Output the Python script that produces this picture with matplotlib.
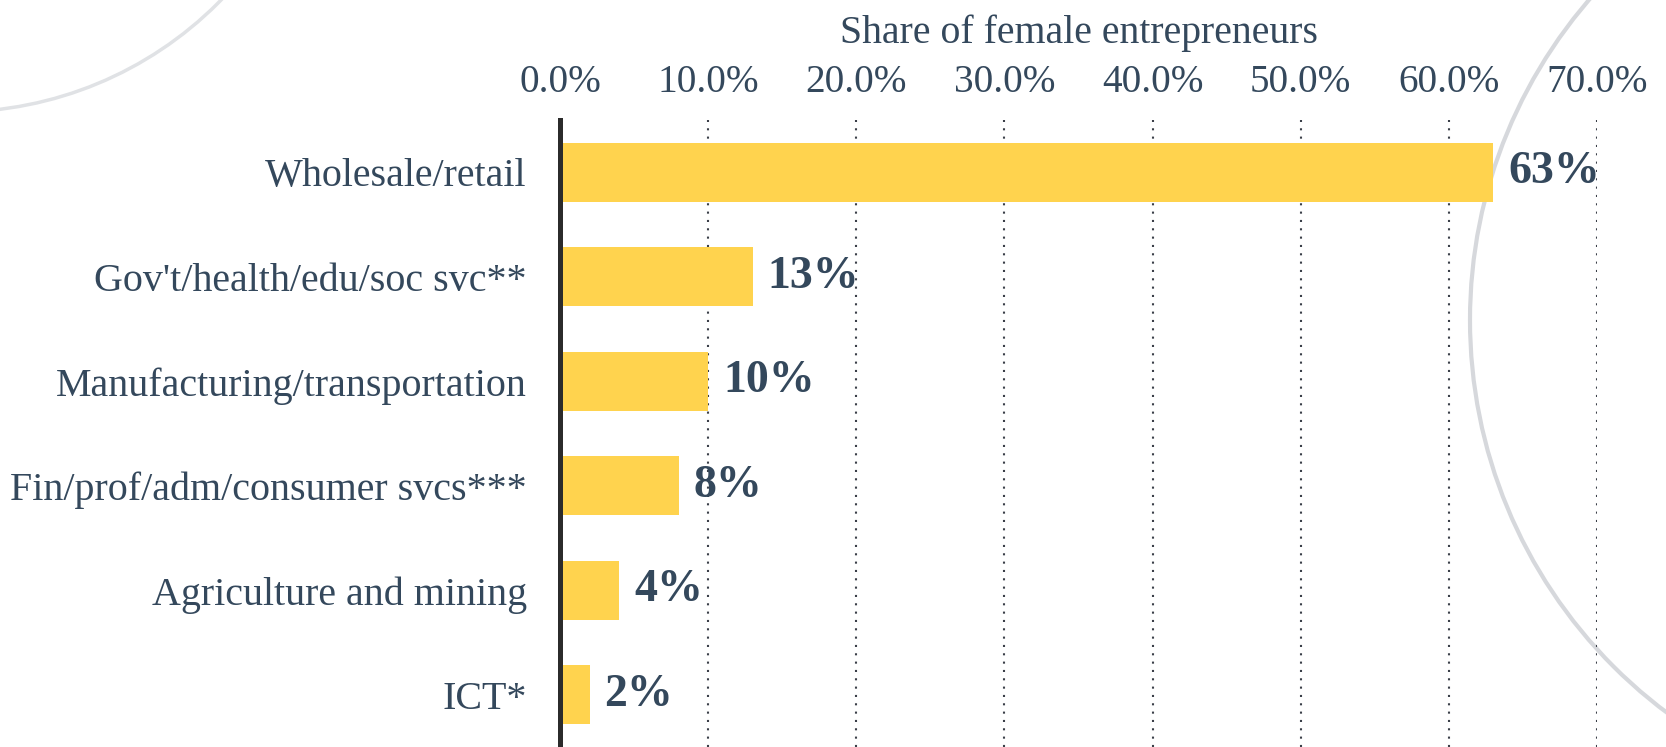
import matplotlib.pyplot as plt
from matplotlib.patches import Circle

plt.rcParams['font.family'] = ['Liberation Serif', 'DejaVu Serif']

sectors = ["Wholesale/retail", "Gov't/health/edu/soc svc**", "Manufacturing/transportation",
           "Fin/prof/adm/consumer svcs***", "Agriculture and mining", "ICT*"]
shares = [63, 13, 10, 8, 4, 2]
ticks = [0, 10, 20, 30, 40, 50, 60, 70]

text_color = '#34485c'

fig = plt.figure(figsize=(16.66, 7.47), dpi=100)

# faint decorative arcs in the background
bg = fig.add_axes([0, 0, 1, 1], zorder=0)
bg.set_xlim(0, 1666)
bg.set_ylim(747, 0)
bg.axis('off')
bg.add_patch(Circle((1960, 320), 490, fill=False, ec='#d6d8dc', lw=3))
bg.add_patch(Circle((-45, -260), 372, fill=False, ec='#e0e2e5', lw=2.5))

ax = fig.add_axes([560 / 1666, 0, (1597 - 560) / 1666, 627 / 747], zorder=1)
ax.patch.set_alpha(0)

ax.barh(range(len(sectors)), shares, height=0.56, color='#FFD34E', zorder=2)

for i, v in enumerate(shares):
    ax.text(v + 1.0, i, f"{v}%", va='center', ha='left', fontsize=33,
            fontweight='bold', color=text_color)

ax.set_xlim(0, 70)
ax.set_ylim(len(sectors) - 0.5, -0.5)

ax.xaxis.tick_top()
ax.xaxis.set_label_position('top')
ax.set_xticks(ticks)
ax.set_xticklabels([f"{t:.1f}%" for t in ticks])
ax.set_xlabel("Share of female entrepreneurs", fontsize=28.6, color=text_color, labelpad=15)
ax.tick_params(axis='x', length=0, pad=14, labelsize=28.3, labelcolor=text_color)

ax.set_yticks(range(len(sectors)))
ax.set_yticklabels(sectors)
ax.tick_params(axis='y', length=0, pad=24, labelsize=28.8, labelcolor=text_color)

ax.xaxis.grid(True, linestyle=(0, (1, 3)), color='#3a3f48', lw=1.5, zorder=1)
ax.set_axisbelow(True)

ax.spines['top'].set_visible(False)
ax.spines['right'].set_visible(False)
ax.spines['bottom'].set_visible(False)
ax.spines['left'].set_linewidth(3.6)
ax.spines['left'].set_color('#2b2b2b')
ax.spines['left'].set_zorder(3)

fig.savefig('out.png', dpi=100)
